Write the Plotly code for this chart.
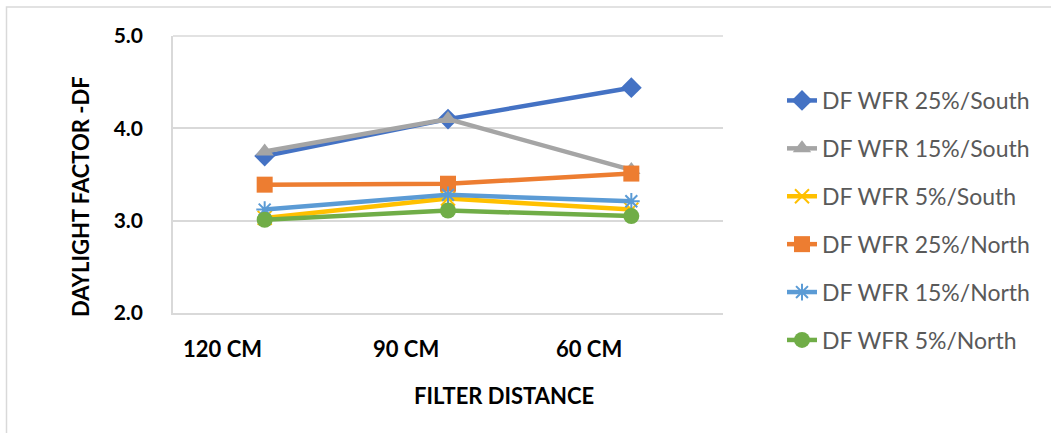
import plotly.graph_objects as go

# Filter distances along the x axis
categories = ["120 CM", "90 CM", "60 CM"]

# Daylight factor per window-to-floor ratio and orientation
df_wfr25_south = [3.70, 4.10, 4.44]
df_wfr15_south = [3.75, 4.10, 3.55]
df_wfr5_south = [3.03, 3.24, 3.12]
df_wfr25_north = [3.39, 3.40, 3.51]
df_wfr15_north = [3.12, 3.28, 3.21]
df_wfr5_north = [3.01, 3.11, 3.05]

series_names = [
    "DF WFR 25%/South",
    "DF WFR 15%/South",
    "DF WFR 5%/South",
    "DF WFR 25%/North",
    "DF WFR 15%/North",
    "DF WFR 5%/North",
]

y_ticks = [2.0, 3.0, 4.0, 5.0]

series = [df_wfr25_south, df_wfr15_south, df_wfr5_south,
          df_wfr25_north, df_wfr15_north, df_wfr5_north]
colors = ["#4472C4", "#A5A5A5", "#FFC000", "#ED7D31", "#5B9BD5", "#70AD47"]
symbols = ["diamond", "triangle-up", "x-thin-open", "square",
           "asterisk-open", "circle"]
sizes = [16, 16, 14, 16, 14, 16]

fig = go.Figure()
for name, vals, col, sym, sz in zip(series_names, series, colors, symbols, sizes):
    open_marker = sym.endswith("open")
    fig.add_trace(go.Scatter(
        x=categories, y=vals, name=name, legendgroup=name,
        mode="lines+markers",
        line=dict(color=col, width=4.5),
        marker=dict(symbol=sym, size=sz, color=col,
                    line=dict(color=col, width=2 if open_marker else 0)),
    ))

W, H = 1051, 433
L, R, T, B = 173, 328, 36, 120
pw, ph = W - L - R, H - T - B


def px_x(x):
    return (x - L) / pw


def px_y(y):
    return (H - B - y) / ph


# Category labels sit left of their points, bold
cat_labels = [
    dict(text=f"<b>{c}</b>", xref="x", yref="paper", x=c, y=px_y(348),
         xshift=-42, xanchor="center", yanchor="middle", showarrow=False,
         font=dict(size=22, color="black"))
    for c in categories
]

fig.update_layout(
    width=W, height=H,
    margin=dict(l=L, r=R, t=T, b=B),
    paper_bgcolor="white", plot_bgcolor="white",
    font=dict(family="Lato, Carlito, Calibri, sans-serif", color="black"),
    showlegend=True,
    legend=dict(
        x=px_x(782), y=px_y(79), xanchor="left", yanchor="top",
        font=dict(size=23, color="#595959"),
        tracegroupgap=15, bgcolor="rgba(0,0,0,0)", maxheight=420,
    ),
    xaxis=dict(
        type="category", range=[-0.5, 2.5],
        showgrid=False, showline=True, linecolor="#D9D9D9", linewidth=1.5,
        ticks="", showticklabels=False,
        zeroline=False,
    ),
    yaxis=dict(
        range=[2.0, 5.0], tickvals=y_ticks, tickformat=".1f",
        showgrid=True, gridcolor="#D9D9D9", gridwidth=1.5,
        showline=True, linecolor="#D9D9D9", linewidth=1.5,
        ticks="", ticklabelstandoff=24,
        tickfont=dict(size=21, color="black", weight="bold"),
        zeroline=False,
    ),
    annotations=cat_labels + [
        dict(text="<b>FILTER DISTANCE</b>", xref="paper", yref="paper",
             x=px_x(504), y=px_y(395), xanchor="center", yanchor="middle",
             showarrow=False, font=dict(size=22, color="black")),
        dict(text="<b>DAYLIGHT FACTOR -DF</b>", xref="paper", yref="paper",
             x=px_x(80), y=px_y(197), xanchor="center", yanchor="middle",
             textangle=-90, showarrow=False,
             font=dict(size=22, color="black")),
    ],
    shapes=[
        dict(type="rect", xref="paper", yref="paper",
             x0=px_x(6.5), x1=px_x(1070), y0=px_y(450), y1=px_y(7),
             line=dict(color="#D9D9D9", width=1.5), layer="below"),
        dict(type="line", xref="paper", yref="paper",
             x0=0, x1=1, y0=1, y1=1,
             line=dict(color="#D9D9D9", width=1.5)),
    ],
)

fig.write_html("out.html")
